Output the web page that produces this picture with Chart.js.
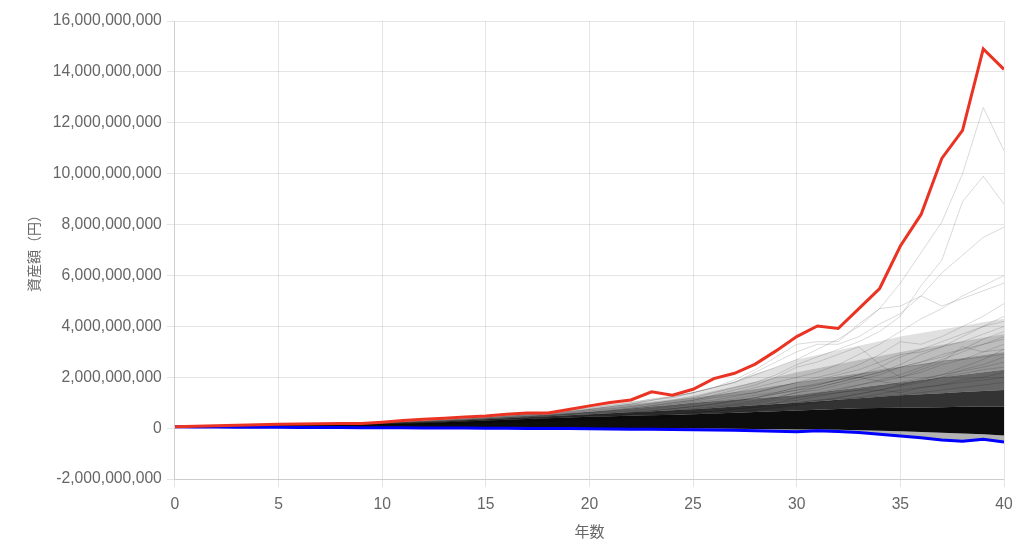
<!DOCTYPE html>
<html lang="ja">
<head>
<meta charset="utf-8">
<title>資産額シミュレーション</title>
<script src="https://cdn.jsdelivr.net/npm/chart.js@4"></script>
<style>
  html, body { margin: 0; padding: 0; background: #fff; }
  #wrap { width: 1024px; height: 542px; }
</style>
</head>
<body>
<div id="wrap"><canvas id="assetChart" width="1024" height="542"></canvas></div>
<script>
// values are in 億円 (1e8 yen)
const UNIT = 1e8;

const years = [0,1,2,3,4,5,6,7,8,9,10,11,12,13,14,15,16,17,18,19,20,21,22,23,24,25,26,27,28,29,30,31,32,33,34,35,36,37,38,39,40];

// best case (red)
const bestCase = [0.6,0.8,1.0,1.2,1.4,1.6,1.7,1.8,1.9,1.9,2.4,3.0,3.5,3.9,4.4,4.8,5.5,6.0,6.0,7.4,8.8,10.1,11.1,14.3,13.0,15.3,19.5,21.6,25.2,30.4,36,40.2,39.2,47,54.9,71.6,84,106,117,149,141];

// worst case (blue)
const worstCase = [0.6,0.5,0.5,0.4,0.4,0.4,0.3,0.3,0.3,0.2,0.2,0.2,0.1,0.1,0.1,0,0,-0.1,-0.1,-0.1,-0.2,-0.3,-0.4,-0.4,-0.5,-0.6,-0.7,-0.8,-1.0,-1.2,-1.4,-1.0,-1.3,-1.7,-2.4,-3.0,-3.7,-4.6,-5.1,-4.3,-5.4];

// density bands of the simulated paths (upper edges, darkest first)
const fanLow = [0.6,0.5,0.5,0.5,0.5,0.5,0.4,0.4,0.4,0.4,0.4,0.4,0.3,0.3,0.3,0.3,0.2,0.2,0.2,0.2,0.1,0.1,0,0,0,-0.1,-0.1,-0.2,-0.3,-0.4,-0.5,-0.5,-0.6,-0.8,-1.0,-1.2,-1.5,-1.8,-2.1,-2.4,-2.8];
const fanB1 = [0.6,0.7,0.8,0.9,1.0,1.1,1.2,1.3,1.45,1.6,1.7,1.9,2.1,2.4,2.7,3.0,3.3,3.6,3.9,4.2,4.5,4.7,4.9,5.1,5.3,5.5,5.8,6.1,6.4,6.7,7.0,7.3,7.6,7.9,8.0,8.1,8.2,8.3,8.4,8.5,8.5];
const fanB2 = [0.6,0.7,0.85,0.95,1.05,1.2,1.3,1.4,1.55,1.7,1.9,2.1,2.4,2.7,3.1,3.5,3.9,4.3,4.7,5.1,5.5,5.9,6.3,6.7,7.1,7.5,8.0,8.5,9.0,9.5,10,10.6,11.2,11.8,12.4,13,13.4,13.8,14.2,14.6,15];
const fanB3 = [0.6,0.75,0.9,1.0,1.1,1.3,1.4,1.5,1.65,1.8,2.1,2.3,2.6,3.0,3.4,3.9,4.4,4.9,5.4,6.0,6.5,7.1,7.8,8.5,9.2,10,10.6,11.2,11.8,12.4,13,14,15,16,17,18,19,20,21,22,23];
const fanB4 = [0.6,0.75,0.9,1.05,1.2,1.4,1.5,1.6,1.75,1.95,2.2,2.5,2.9,3.3,3.8,4.3,4.9,5.5,5.7,6.5,7.5,8.3,9.2,10.1,11,12,13.1,14.2,15.4,16.7,18,19.2,20.4,21.6,22.8,24,25.2,26.4,27.6,28.8,30];
const fanB5 = [0.6,0.75,0.9,1.1,1.25,1.45,1.55,1.7,1.85,1.85,2.3,2.7,3.1,3.6,4.1,4.6,5.2,5.7,5.8,6.8,7.8,8.7,9.6,10.5,11.4,12.8,14.6,16.4,18.3,20.1,22,23.6,25.2,26.8,28.4,30,31.4,32.8,34.2,35.6,37];
const fanB6 = [0.6,0.78,0.95,1.15,1.35,1.55,1.65,1.75,1.85,1.88,2.35,2.9,3.4,3.8,4.3,4.7,5.4,5.9,5.95,7.2,8.5,9.5,10.5,11.5,12.5,14,16,18.5,21.5,24,27,28.8,30.6,32.4,34.2,36,37.4,38.8,40.2,41.6,43];

// individual paths that stand out above the dense band
const pathA = [0.6,0.7,0.8,0.9,1.0,1.2,1.3,1.5,1.7,1.9,2.2,2.5,2.8,3.2,3.6,4.1,4.6,5.3,6.0,6.6,7.5,8.5,9.5,11,12,14,16,18,21,24,27,31,35,40,47,57,69,81,100,126,109];
const pathB = [0.6,0.7,0.8,0.9,1.0,1.1,1.2,1.4,1.6,1.8,2.0,2.3,2.6,2.9,3.3,3.7,4.2,4.7,5.3,6.0,6.8,7.6,8.5,9.6,11,12,14,16,18,21,25,28,31,34,38,44,56,66,89,99,88];
const pathC = [0.6,0.7,0.8,0.9,1.1,1.2,1.4,1.6,1.8,1.9,2.3,2.6,2.9,3.3,3.8,4.3,4.9,5.5,5.9,7.0,8.0,9.0,10,11.5,12.5,14,16,18,22,26,30,33,33,36,41,45,52,61,68,75,79];
const pathD = [0.6,0.7,0.7,0.8,0.9,1.0,1.2,1.3,1.5,1.7,1.9,2.1,2.4,2.7,3.0,3.4,3.8,4.3,4.9,5.5,6.2,7.0,7.9,8.9,10,11,12.5,14,16,18,20,22,25,29,33,38,43,47,52,56,60];
const pathE = [0.6,0.7,0.8,0.9,1.0,1.1,1.3,1.4,1.6,1.8,2.0,2.3,2.6,3.0,3.4,3.9,4.4,5.0,5.7,6.5,7.4,8.4,9.5,11,12.5,14,16,19,23,28,33,34,34,41,47,48,52,48,51,54,57];
const pathF = [0.6,0.7,0.8,0.9,1.0,1.1,1.2,1.3,1.5,1.7,1.9,2.1,2.3,2.6,2.9,3.2,3.6,4.0,4.5,5.0,5.6,6.3,7.0,7.8,8.8,10,11,12.5,14,16,18,20,22,25,29,34,33,36,40,44,49];
const pathG = [0.6,0.7,0.8,0.9,1.0,1.1,1.3,1.4,1.6,1.8,2.0,2.2,2.5,2.8,3.1,3.5,3.9,4.4,4.9,5.5,6.2,7.0,7.8,8.8,10,11,13,15,17,20,24,26,29,32,25,20,22,25,27,30,33];
const pathH = [0.6,0.7,0.7,0.8,0.9,1.0,1.1,1.2,1.4,1.5,1.7,1.9,2.1,2.4,2.6,2.9,3.3,3.6,4.0,4.5,5.0,5.6,6.2,6.9,7.7,8.6,9.6,11,12,13.5,15,17,19,21,24,28,31,34,37,40,42];
const pathI = [0.6,0.7,0.8,0.8,0.9,1.0,1.1,1.2,1.3,1.5,1.7,1.9,2.1,2.3,2.6,2.9,3.2,3.5,3.9,4.4,4.9,5.5,6.1,6.8,7.5,8.4,9.3,10.5,12,13.5,15,16,18,20,22,25,29,32,36,40,44];
const pathJ = [0.6,0.7,0.7,0.8,0.9,1.0,1.1,1.2,1.3,1.5,1.6,1.8,2.0,2.2,2.5,2.7,3.0,3.3,3.7,4.1,4.6,5.1,5.7,6.3,7.0,7.8,8.7,9.7,11,12,14,15,17,19,21,24,26,29,31,35,38];
const pathK = [0.6,0.6,0.7,0.8,0.8,0.9,1.0,1.1,1.2,1.4,1.5,1.7,1.9,2.1,2.3,2.5,2.8,3.1,3.4,3.8,4.2,4.7,5.2,5.7,6.3,7.0,7.8,8.6,9.6,11,12,13.5,15,17,19,21,24,27,30,33,36];
const pathM = [0.6,0.6,0.7,0.8,0.9,1.0,1.1,1.2,1.3,1.4,1.6,1.8,2.0,2.2,2.4,2.7,3.0,3.3,3.6,4.0,4.4,4.9,5.4,6.0,6.6,7.3,8.1,9.0,10,11.5,13,14,15.5,17,18.5,20,23,26,32,30,31];
const pathN = [0.6,0.7,0.8,0.9,1.0,1.1,1.2,1.4,1.6,1.8,2.0,2.2,2.5,2.8,3.1,3.5,3.9,4.3,4.8,5.4,6.0,6.7,7.5,8.4,9.4,10.5,12,13,14,16,18,19,21,23,26,29,30,32,34,37,40];
const pathO = [0.6,0.6,0.7,0.7,0.8,0.9,1.0,1.1,1.2,1.3,1.4,1.6,1.7,1.9,2.1,2.3,2.5,2.8,3.1,3.4,3.7,4.1,4.5,5.0,5.5,6.1,6.7,7.4,8.2,9.0,10,11,12,13.5,15,16.5,18,20,23,25,28];
const pathP = [0.6,0.7,0.7,0.8,0.9,1.0,1.1,1.3,1.4,1.6,1.8,2.0,2.2,2.5,2.8,3.1,3.5,3.9,4.3,4.8,5.4,6.0,6.7,7.5,8.4,9.4,10.5,11.5,13,14,16,17,19,21,23,24,26,28,31,33,35];
const pathQ = [0.6,0.6,0.7,0.7,0.8,0.8,0.9,1.0,1.1,1.2,1.3,1.4,1.5,1.7,1.8,2.0,2.2,2.4,2.6,2.9,3.2,3.5,3.9,4.3,4.8,5.3,5.9,6.6,7.4,8.3,9.3,10.5,12,13.5,15,17,19,21,24,27,31];
const pathR = [0.6,0.6,0.7,0.8,0.8,0.9,1.0,1.1,1.2,1.3,1.4,1.6,1.7,1.9,2.1,2.3,2.6,2.8,3.1,3.4,3.8,4.2,4.6,5.1,5.6,6.2,6.8,7.6,8.5,10,12,13,14,15,16.5,18,19.5,21,22.5,24,26];
const pathS = [0.6,0.7,0.7,0.8,0.9,0.9,1.0,1.1,1.2,1.3,1.5,1.6,1.8,2.0,2.2,2.4,2.7,3.0,3.3,3.6,4.0,4.4,4.9,5.4,6.0,6.6,7.3,8.0,9.0,10,11,12.5,14,15,15,14,16,17,19,20,22];
const pathT = [0.6,0.7,0.7,0.8,0.9,1.0,1.1,1.2,1.3,1.4,1.6,1.8,2.0,2.2,2.4,2.7,3.0,3.3,3.7,4.1,4.5,5.0,5.5,6.1,6.8,7.5,8.3,9.3,10.5,12,14,16,18,20,18.5,17,18.5,20,21.5,23,24];
const pathU = [0.6,0.6,0.7,0.7,0.8,0.8,0.9,1.0,1.1,1.2,1.3,1.4,1.5,1.6,1.8,2.0,2.2,2.4,2.6,2.9,3.2,3.5,3.9,4.3,4.8,5.3,5.8,6.4,7.1,8.0,9,10,11,12,13.5,15,16,17,18,19,20];
const pathV = [0.6,0.6,0.7,0.7,0.8,0.9,0.9,1.0,1.1,1.2,1.3,1.5,1.6,1.8,2.0,2.2,2.4,2.7,3.0,3.3,3.6,4.0,4.5,5.0,5.5,6.1,6.7,7.4,8.1,9,10,11,11.5,12,12.5,13,14,15,16,17,18];
const pathW = [0.6,0.7,0.8,0.8,0.9,1.0,1.1,1.2,1.4,1.5,1.7,1.9,2.1,2.3,2.6,2.9,3.2,3.6,4.0,4.5,5.0,5.6,6.2,6.9,7.7,8.6,9.6,10.7,12,14,16,17.5,19,20,22,24,25,26.5,27,28,29];

const paths = [pathA, pathB, pathC, pathD, pathE, pathF, pathG, pathH, pathI, pathJ, pathK, pathM, pathN, pathO, pathP, pathQ, pathR, pathS, pathT, pathU, pathV, pathW];
const bands = [fanLow, fanB1, fanB2, fanB3, fanB4, fanB5, fanB6];
const bandAlpha = [0.3, 0.95, 0.8, 0.6, 0.42, 0.26, 0.12];

const yTicks = { min: -2000000000, max: 16000000000, step: 2000000000 };

// convert a value list to chart points
function toPoints(values) {
  return values.map((v, i) => ({ x: years[i], y: v * UNIT }));
}

function lineSet(label, values, color, width) {
  return {
    label: label,
    data: toPoints(values),
    borderColor: color,
    borderWidth: width,
    pointRadius: 0,
    fill: false,
    tension: 0
  };
}

function bandSet(label, values, target, fillColor) {
  return {
    label: label,
    data: toPoints(values),
    borderWidth: 0,
    borderColor: 'rgba(0,0,0,0)',
    backgroundColor: fillColor,
    pointRadius: 0,
    fill: target,
    tension: 0
  };
}

const datasets = [];
datasets.push(lineSet('最良', bestCase, 'rgb(234, 51, 35)', 3));
datasets.push(lineSet('最悪', worstCase, 'rgb(0, 0, 255)', 3));
paths.forEach((p, i) => datasets.push(lineSet('path' + i, p, 'rgba(0, 0, 0, 0.15)', 1)));

// each band fills down to the band below it (the first one down to the blue line)
const bandStart = datasets.length;
bands.forEach((b, i) => {
  const target = i === 0 ? 1 : bandStart + i - 1;
  datasets.push(bandSet('band' + i, b, target, 'rgba(0, 0, 0, ' + bandAlpha[i] + ')'));
});

const tickFont = { family: '"Liberation Sans", Arial, sans-serif', size: 15.7 };
const titleFamily = '"Liberation Sans", "Noto Sans CJK JP", sans-serif';

const ctx = document.getElementById('assetChart').getContext('2d');
const assetChart = new Chart(ctx, {
  type: 'line',
  data: { datasets: datasets },
  options: {
    responsive: false,
    animation: false,
    layout: { padding: { top: 21, right: 20, bottom: 0, left: 23 } },
    plugins: {
      legend: { display: false },
      tooltip: { enabled: false }
    },
    scales: {
      x: {
        type: 'linear',
        min: 0,
        max: 40,
        ticks: { stepSize: 5, color: '#666', font: tickFont, padding: 8 },
        grid: { color: 'rgba(0,0,0,0.1)' },
        title: {
          display: true,
          text: '年数',
          color: '#666',
          font: { family: titleFamily, size: 15 },
          padding: { top: 2, bottom: 0 }
        }
      },
      y: {
        min: yTicks.min,
        max: yTicks.max,
        ticks: {
          stepSize: yTicks.step,
          color: '#666',
          font: tickFont,
          padding: 5,
          callback: function(value) {
            return value.toLocaleString('en-US');
          }
        },
        grid: { color: 'rgba(0,0,0,0.1)' },
        title: { display: true, text: '資産額（円）', color: '#666', font: { family: titleFamily, size: 14 } }
      }
    }
  }
});
</script>
</body>
</html>
